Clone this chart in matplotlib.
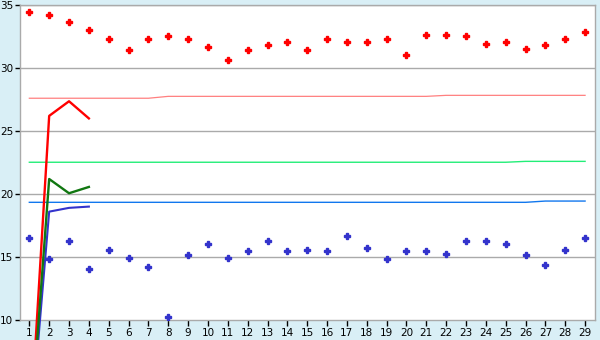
import matplotlib
matplotlib.use("Agg")
import matplotlib.pyplot as plt
import numpy as np

x = list(range(1, 30))
red_pts = [34.42, 34.18, 33.62, 32.99, 32.27, 31.40, 32.27, 32.51, 32.27, 31.64,
           30.61, 31.40, 31.80, 32.04, 31.40, 32.27, 32.04, 32.04, 32.27, 31.00,
           32.59, 32.59, 32.51, 31.88, 32.04, 31.48, 31.80, 32.27, 32.83]
blue_pts = [16.48, 14.81, 16.25, 14.02, 15.53, 14.90, 14.18, 10.21, 15.13, 16.01,
            14.90, 15.45, 16.25, 15.45, 15.53, 15.45, 16.64, 15.69, 14.81, 15.45,
            15.45, 15.21, 16.25, 16.25, 16.01, 15.13, 14.34, 15.53, 16.48]

pink_level = [27.60]*7 + [27.75]*14 + [27.83]*8
green_level = [22.52]*25 + [22.59]*4
blue_level = [19.34]*26 + [19.44]*3

run_x = [1, 2, 3, 4]
red_run = [0.0, 26.2, 27.36, 26.0]
green_run = [0.0, 21.19, 20.06, 20.56]
blue_run = [0.0, 18.6, 18.9, 19.0]

yticks = [10, 15, 20, 25, 30, 35]

bg = '#d9eff6'
fig = plt.figure(figsize=(6, 3.4), dpi=100, facecolor=bg)
ax = fig.add_axes([20/600, 1-320/340, 575/600, 315/340])
ax.set_facecolor('white')
ax.set_xlim(0.53, 29.5)
ax.set_ylim(10, 35)

for y in yticks[1:]:
    ax.axhline(y, color='#aaaaaa', lw=1.0, zorder=1)

ax.plot(x, pink_level, color='#ff8080', lw=0.9, zorder=2)
ax.plot(x, green_level, color='#22ee77', lw=1.0, zorder=2)
ax.plot(x, blue_level, color='#1177ee', lw=1.0, zorder=2)

ax.plot(x, red_pts, ls='none', marker='P', ms=4.6, color='#ff0000', mec='#ff0000', zorder=3)
ax.plot(x, blue_pts, ls='none', marker='P', ms=4.6, color='#3333cc', mec='#3333cc', zorder=3)

ax.plot(run_x, blue_run, color='#3333cc', lw=1.5, zorder=5, clip_on=False)
ax.plot(run_x, red_run, color='#ff0000', lw=1.7, zorder=6, clip_on=False)
ax.plot(run_x, green_run, color='#117711', lw=1.7, zorder=7, clip_on=False)

for s in ax.spines.values():
    s.set_color('#aaaaaa')
    s.set_linewidth(1.0)

ax.set_xticks(x)
ax.set_xticklabels([str(v) for v in x])
ax.set_yticks(yticks)
ax.set_yticklabels([str(v) for v in yticks])
ax.tick_params(axis='both', direction='out', length=3.5, width=1, colors='#000000',
               labelsize=7.5, pad=1.5)
ax.tick_params(axis='x', length=4)
for t in ax.get_xticklines() + ax.get_yticklines():
    t.set_color('#333333')

fig.savefig('out.png', dpi=100, facecolor=bg)
